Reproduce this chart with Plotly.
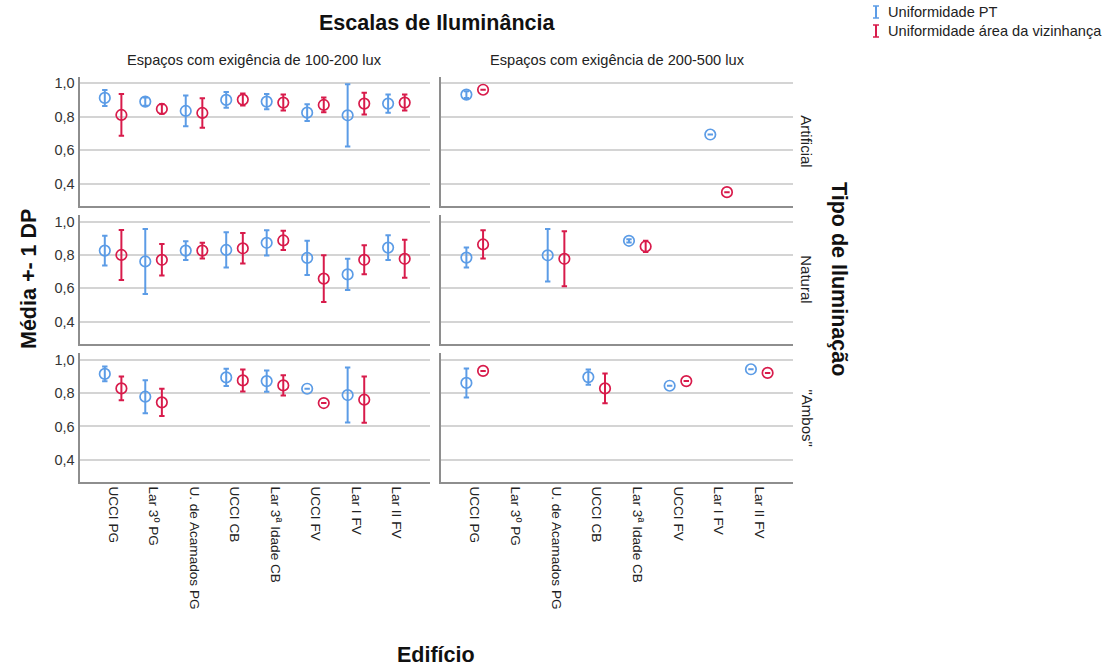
import plotly.graph_objects as go

# Buildings (x categories), identical in both lux columns
categories = ["UCCI PG", "Lar 3º PG", "U. de Acamados PG", "UCCI CB",
              "Lar 3ª Idade CB", "UCCI FV", "Lar I FV", "Lar II FV"]
lighting_types = ["Artificial", "Natural", "\"Ambos\""]
lux_columns = ["Espaços com exigência de 100-200 lux",
               "Espaços com exigência de 200-500 lux"]
y_ticks = [0.4, 0.6, 0.8, 1.0]
y_tick_labels = ["0,4", "0,6", "0,8", "1,0"]

# Uniformidade PT (mean, SD) and Uniformidade área da vizinhança (mean, SD)
# Artificial, 100-200 lux
pt_mean_art_100 = [0.913, 0.891, 0.835, 0.901, 0.891, 0.825, 0.809, 0.879]
pt_sd_art_100 = [0.048, 0.025, 0.092, 0.047, 0.046, 0.050, 0.186, 0.055]
viz_mean_art_100 = [0.811, 0.847, 0.823, 0.903, 0.885, 0.871, 0.879, 0.885]
viz_sd_art_100 = [0.125, 0.028, 0.088, 0.036, 0.048, 0.044, 0.065, 0.048]
# Artificial, 200-500 lux
pt_mean_art_200 = [0.933, None, None, None, None, None, 0.694, None]
pt_sd_art_200 = [0.020, None, None, None, None, None, 0.0, None]
viz_mean_art_200 = [0.962, None, None, None, None, None, 0.349, None]
viz_sd_art_200 = [0.0, None, None, None, None, None, 0.0, None]
# Natural, 100-200 lux
pt_mean_nat_100 = [0.826, 0.761, 0.826, 0.830, 0.873, 0.782, 0.683, 0.844]
pt_sd_nat_100 = [0.089, 0.195, 0.056, 0.106, 0.076, 0.103, 0.094, 0.074]
viz_mean_nat_100 = [0.800, 0.771, 0.826, 0.840, 0.887, 0.658, 0.771, 0.777]
viz_sd_nat_100 = [0.150, 0.095, 0.048, 0.092, 0.058, 0.140, 0.087, 0.114]
# Natural, 200-500 lux
pt_mean_nat_200 = [0.784, None, 0.798, None, 0.885, None, None, None]
pt_sd_nat_200 = [0.060, None, 0.158, None, 0.010, None, None, None]
viz_mean_nat_200 = [0.863, None, 0.777, None, 0.851, None, None, None]
viz_sd_nat_200 = [0.085, None, 0.165, None, 0.034, None, None, None]
# "Ambos", 100-200 lux
pt_mean_amb_100 = [0.916, 0.779, None, 0.895, 0.873, 0.827, 0.789, None]
pt_sd_amb_100 = [0.044, 0.099, None, 0.052, 0.064, 0.0, 0.165, None]
viz_mean_amb_100 = [0.829, 0.745, None, 0.877, 0.847, 0.741, 0.761, None]
viz_sd_amb_100 = [0.072, 0.082, None, 0.066, 0.061, 0.0, 0.139, None]
# "Ambos", 200-500 lux
pt_mean_amb_200 = [0.862, None, None, 0.897, None, 0.845, None, 0.944]
pt_sd_amb_200 = [0.087, None, None, 0.046, None, 0.0, None, 0.0]
viz_mean_amb_200 = [0.934, None, None, 0.829, None, 0.873, None, 0.922]
viz_sd_amb_200 = [0.0, None, None, 0.089, None, 0.0, None, 0.0]

panels = [
    [(pt_mean_art_100, pt_sd_art_100, viz_mean_art_100, viz_sd_art_100),
     (pt_mean_art_200, pt_sd_art_200, viz_mean_art_200, viz_sd_art_200)],
    [(pt_mean_nat_100, pt_sd_nat_100, viz_mean_nat_100, viz_sd_nat_100),
     (pt_mean_nat_200, pt_sd_nat_200, viz_mean_nat_200, viz_sd_nat_200)],
    [(pt_mean_amb_100, pt_sd_amb_100, viz_mean_amb_100, viz_sd_amb_100),
     (pt_mean_amb_200, pt_sd_amb_200, viz_mean_amb_200, viz_sd_amb_200)],
]

W, H = 1107, 666
BLUE = "#5c9ce6"
RED = "#d81b4b"
AXIS = "#8e8e8e"
GRID = "#d4d4d4"
FONT = "Liberation Sans, Arial, sans-serif"
OFFSET = 0.205


def fx(p):
    return p / W


def fy(p):
    return 1 - p / H


col_px = [(79.5, 430), (441, 793)]
row_px = [(76.7, 205.7), (215, 343.5), (353.3, 481.7)]

fig = go.Figure()
layout_axes = {}

for r, row in enumerate(panels):
    for c, (ptm, pts, vzm, vzs) in enumerate(row):
        k = r * 2 + c + 1
        xa = "x" if k == 1 else f"x{k}"
        ya = "y" if k == 1 else f"y{k}"
        for means, sds, off, color in ((ptm, pts, -OFFSET, BLUE),
                                       (vzm, vzs, OFFSET, RED)):
            xs, ys, es = [], [], []
            for i, (m, s) in enumerate(zip(means, sds)):
                if m is None:
                    continue
                xs.append(i + off)
                ys.append(m)
                es.append(s)
            fig.add_trace(go.Scatter(
                x=xs, y=ys, mode="markers", xaxis=xa, yaxis=ya,
                showlegend=False, hoverinfo="skip",
                marker=dict(symbol="circle-open", size=10.5, color=color,
                            line=dict(width=1.7, color=color)),
                error_y=dict(type="data", array=es, visible=True,
                             color=color, thickness=2, width=2.7),
            ))
        x0, x1 = col_px[c]
        y0, y1 = row_px[r]
        layout_axes[f"xaxis{'' if k == 1 else k}"] = dict(
            domain=[fx(x0), fx(x1)], anchor=ya, range=[-0.83, 7.83],
            tickmode="array", tickvals=list(range(len(categories))),
            ticktext=categories, showticklabels=(r == 2), tickangle=90,
            tickfont=dict(family=FONT, size=13.6, color="#222222"),
            showline=True, linecolor=AXIS, linewidth=2, showgrid=False,
            zeroline=False, ticks="", fixedrange=True,
        )
        layout_axes[f"yaxis{'' if k == 1 else k}"] = dict(
            domain=[fy(y1), fy(y0)], anchor=xa, range=[0.268, 1.04],
            tickmode="array", tickvals=y_ticks, ticktext=y_tick_labels,
            showticklabels=(c == 0),
            tickfont=dict(family=FONT, size=14.5, color="#333333"),
            showline=True, linecolor=AXIS, linewidth=2, showgrid=True,
            gridcolor=GRID, gridwidth=1.6, zeroline=False, ticks="",
            fixedrange=True,
        )

annotations = []


def label(text, x, y, size, bold=False, angle=0, color="#111111",
          xanchor="center"):
    annotations.append(dict(
        text=f"<b>{text}</b>" if bold else text, x=fx(x), y=fy(y),
        xref="paper", yref="paper", showarrow=False, textangle=angle,
        xanchor=xanchor, yanchor="middle",
        font=dict(family=FONT, size=size, color=color)))


label("Escalas de Iluminância", 437, 23, 21.5, bold=True)
for c, text in enumerate(lux_columns):
    x0, x1 = col_px[c]
    label(text, (x0 + x1) / 2, 60, 14.6, color="#222222")
for r, text in enumerate(lighting_types):
    y0, y1 = row_px[r]
    label(text, 807, (y0 + y1) / 2, 15, angle=90, color="#222222")
label("Tipo de Iluminação", 839, 279, 21.5, bold=True, angle=90)
label("Média +- 1 DP", 29, 279, 21.5, bold=True, angle=-90)
label("Edifício", 436, 655, 21.5, bold=True)

# Legend: error-bar glyph followed by series name
shapes = []
for y, color, text in ((12, BLUE, "Uniformidade PT"),
                       (31, RED, "Uniformidade área da vizinhança")):
    shapes.append(dict(type="line", xref="paper", yref="paper",
                       x0=fx(876), x1=fx(876), y0=fy(y - 6), y1=fy(y + 6),
                       line=dict(color=color, width=2)))
    for yy in (y - 6, y + 6):
        shapes.append(dict(type="line", xref="paper", yref="paper",
                           x0=fx(873), x1=fx(879), y0=fy(yy), y1=fy(yy),
                           line=dict(color=color, width=1.5)))
    label(text, 886, y, 14.6, color="#222222", xanchor="left")

fig.update_layout(
    width=W, height=H, margin=dict(l=0, r=0, t=0, b=0),
    paper_bgcolor="white", plot_bgcolor="white",
    annotations=annotations, shapes=shapes, showlegend=False,
    **layout_axes,
)

fig.write_html("out.html")
